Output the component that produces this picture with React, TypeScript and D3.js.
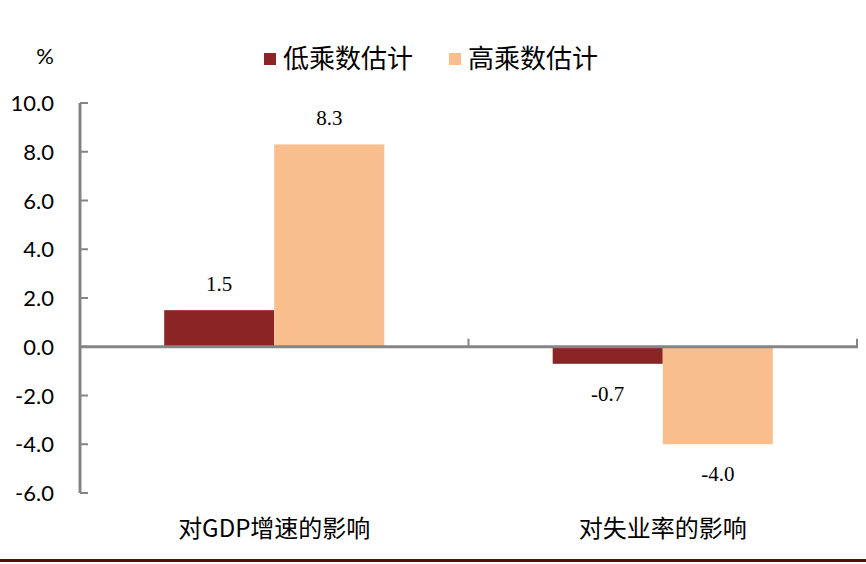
import React from "react";
import * as d3 from "d3";

const categories = ["对GDP增速的影响", "对失业率的影响"];
const seriesNames = ["低乘数估计", "高乘数估计"];
const lowValues = [1.5, -0.7];
const highValues = [8.3, -4.0];
const yTicks = [10, 8, 6, 4, 2, 0, -2, -4, -6];
const colors = ["#8B2425", "#F8BE8D"];

const W = 866;
const H = 564;
const axisX = 80;
const rightX = 857;

const fmt = (v: number) => v.toFixed(1);

export default function App() {
  const y = d3.scaleLinear().domain([-6, 10]).range([493, 103]);
  const x = d3.scaleBand<string>().domain(categories).range([axisX, rightX]).paddingInner(0).paddingOuter(0);
  const inner = d3.scaleBand<string>().domain(seriesNames).range([0, x.bandwidth()]).paddingOuter(0.765).paddingInner(0);
  const series = [lowValues, highValues];
  const labelFont = "'Liberation Serif', 'DejaVu Serif', serif";
  const cjkFont = "'Noto Sans CJK SC', sans-serif";
  const tickFont = "Lato, 'Open Sans', sans-serif";
  const y0 = y(0);

  return (
    <svg width={W} height={H} style={{ position: "absolute", left: 0, top: 0, background: "#fff" }}>
      <rect x={0} y={0} width={W} height={H} fill="#fff" />
      <text x={54} y={64} textAnchor="end" fontFamily={tickFont} fontSize={22} fill="#000">%</text>
      {seriesNames.map((s, i) => {
        const lx = i === 0 ? 264 : 449;
        return (
          <g key={s}>
            <rect x={lx} y={53} width={12} height={12} fill={colors[i]} />
            <text x={lx + 19} y={68} fontFamily={cjkFont} fontSize={26} fill="#000">{s}</text>
          </g>
        );
      })}
      {yTicks.map((t) => (
        <text key={t} x={54} y={y(t) + 8} textAnchor="end" fontFamily={tickFont} fontSize={22} fill="#000">
          {fmt(t)}
        </text>
      ))}
      {categories.map((c, ci) =>
        series.map((vals, si) => {
          const v = vals[ci];
          const bx = (x(c) as number) + (inner(seriesNames[si]) as number);
          const bw = inner.bandwidth();
          const top = Math.min(y(v), y0);
          const h = Math.abs(y(v) - y0);
          const ly = v >= 0 ? y(v) - 19 : y(v) + 37;
          return (
            <g key={c + si}>
              <rect x={bx} y={top} width={bw} height={h} fill={colors[si]} />
              <text x={bx + bw / 2} y={ly} textAnchor="middle" fontFamily={labelFont} fontSize={21} fill="#000">
                {fmt(v)}
              </text>
            </g>
          );
        })
      )}
      <line x1={axisX} x2={axisX} y1={y(10)} y2={y(-6)} stroke="#858585" strokeWidth={3} />
      {yTicks.map((t) => (
        <line key={"t" + t} x1={axisX} x2={axisX + 8} y1={y(t)} y2={y(t)} stroke="#858585" strokeWidth={2} />
      ))}
      <line x1={axisX} x2={rightX + 1} y1={y0} y2={y0} stroke="#858585" strokeWidth={3} />
      {categories.map((c) => {
        const ex = (x(c) as number) + x.bandwidth();
        return <line key={"xt" + c} x1={ex} x2={ex} y1={y0} y2={y0 - 8} stroke="#858585" strokeWidth={2} />;
      })}
      {categories.map((c) => (
        <text key={"cl" + c} x={(x(c) as number) + x.bandwidth() / 2} y={537} textAnchor="middle" fontFamily={cjkFont} fontSize={24} fill="#000">
          {c}
        </text>
      ))}
      <rect x={0} y={559} width={W} height={3} fill="#5C0A0A" />
    </svg>
  );
}
